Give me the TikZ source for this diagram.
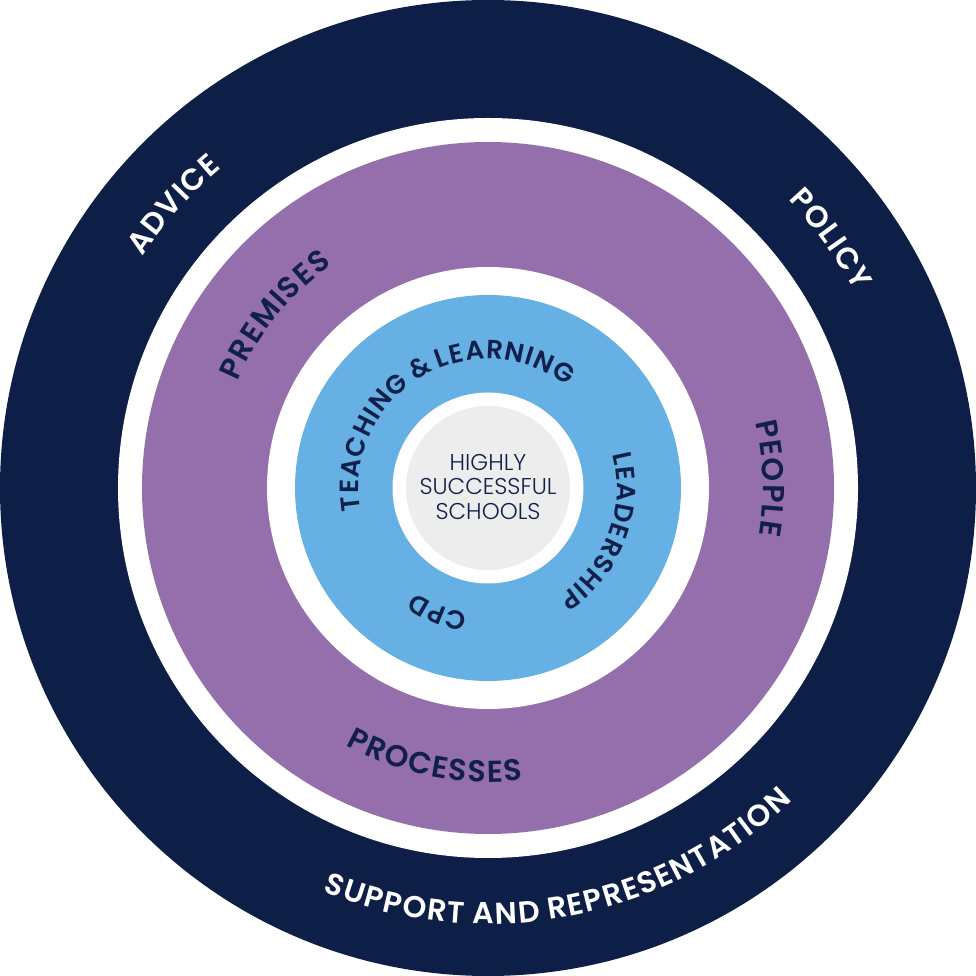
\documentclass[tikz,border=0pt]{standalone}
\usepackage{fontspec}
\setmainfont{Poppins}
\newfontfamily\labfont{Poppins}[UprightFont={* SemiBold}]
\newfontfamily\corefont{Poppins}[UprightFont={* Light}]
\usetikzlibrary{decorations.text}

\definecolor{navyring}{HTML}{0E1F47}
\definecolor{purplering}{HTML}{946FAB}
\definecolor{bluering}{HTML}{67B0E3}
\definecolor{corefill}{HTML}{EDEDED}
\definecolor{inktext}{HTML}{10204A}

% clockwise label: angle, radius, text (letters point outward)
\newcommand{\cwlabel}[3]{%
  \path[decorate, decoration={text along path, text align=center, text={#3}}]
    ({#1+90}:#2) arc[start angle={#1+90}, end angle={#1-90}, radius=#2];}
% counter-clockwise label: letters point inward
\newcommand{\ccwlabel}[3]{%
  \path[decorate, decoration={text along path, text align=center, text={#3}}]
    ({#1-90}:#2) arc[start angle={#1-90}, end angle={#1+90}, radius=#2];}

\begin{document}
\begin{tikzpicture}
  \useasboundingbox (-4.88,-4.88) rectangle (4.88,4.88);

  % rings
  \fill[navyring] (0,0) circle (4.88);
  \fill[white] (0,0) circle (3.70);
  \fill[purplering] (0,0) circle (3.46);
  \fill[white] (0,0) circle (2.21);
  \fill[bluering] (0,0) circle (1.93);
  \fill[white] (0,0) circle (0.955);
  \fill[corefill] (0,0) circle (0.82);

  % outer ring
  \cwlabel{138}{4.16}{|\fontsize{8.6}{10}\labfont\color{white}|A{\kern.4pt}D{\kern.4pt}V{\kern.4pt}I{\kern.4pt}C{\kern.4pt}E}
  \cwlabel{36}{4.16}{|\fontsize{8.6}{10}\labfont\color{white}|P{\kern.4pt}O{\kern.4pt}L{\kern.4pt}I{\kern.4pt}C{\kern.4pt}Y}
  \ccwlabel{281}{4.36}{|\fontsize{8.6}{10}\labfont\color{white}|S{\kern.4pt}U{\kern.4pt}P{\kern.4pt}P{\kern.4pt}O{\kern.4pt}R{\kern.4pt}T{\kern.4pt} A{\kern.4pt}N{\kern.4pt}D{\kern.4pt} R{\kern.4pt}E{\kern.4pt}P{\kern.4pt}R{\kern.4pt}E{\kern.4pt}S{\kern.4pt}E{\kern.4pt}N{\kern.4pt}T{\kern.4pt}A{\kern.4pt}T{\kern.4pt}I{\kern.4pt}O{\kern.4pt}N}

  % middle ring
  \cwlabel{141}{2.72}{|\fontsize{8.6}{10}\labfont\color{inktext}|P{\kern.4pt}R{\kern.4pt}E{\kern.4pt}M{\kern.4pt}I{\kern.4pt}S{\kern.4pt}E{\kern.4pt}S}
  \cwlabel{2}{2.75}{|\fontsize{8.6}{10}\labfont\color{inktext}|P{\kern.4pt}E{\kern.4pt}O{\kern.4pt}P{\kern.4pt}L{\kern.4pt}E}
  \ccwlabel{259}{2.94}{|\fontsize{8.6}{10}\labfont\color{inktext}|P{\kern.4pt}R{\kern.4pt}O{\kern.4pt}C{\kern.4pt}E{\kern.4pt}S{\kern.4pt}S{\kern.4pt}E{\kern.4pt}S}

  % inner ring
  \cwlabel{121}{1.29}{|\fontsize{7.5}{9}\labfont\color{inktext}|T{\kern.3pt}E{\kern.3pt}A{\kern.3pt}C{\kern.3pt}H{\kern.3pt}I{\kern.3pt}N{\kern.3pt}G {\&} L{\kern.3pt}E{\kern.3pt}A{\kern.3pt}R{\kern.3pt}N{\kern.3pt}I{\kern.3pt}N{\kern.3pt}G}
  \cwlabel{-21}{1.29}{|\fontsize{7.5}{9}\labfont\color{inktext}|L{\kern.3pt}E{\kern.3pt}A{\kern.3pt}D{\kern.3pt}E{\kern.3pt}R{\kern.3pt}S{\kern.3pt}H{\kern.3pt}I{\kern.3pt}P}
  \cwlabel{248}{1.27}{|\fontsize{7.5}{9}\labfont\color{inktext}|C{\kern.3pt}P{\kern.3pt}D}

  \node[align=center, text=inktext, font=\fontsize{6.5}{7.1}\corefont] (core) at (0,0.01)
    {HIGHLY\\SUCCESSFUL\\SCHOOLS};
\end{tikzpicture}
\end{document}
